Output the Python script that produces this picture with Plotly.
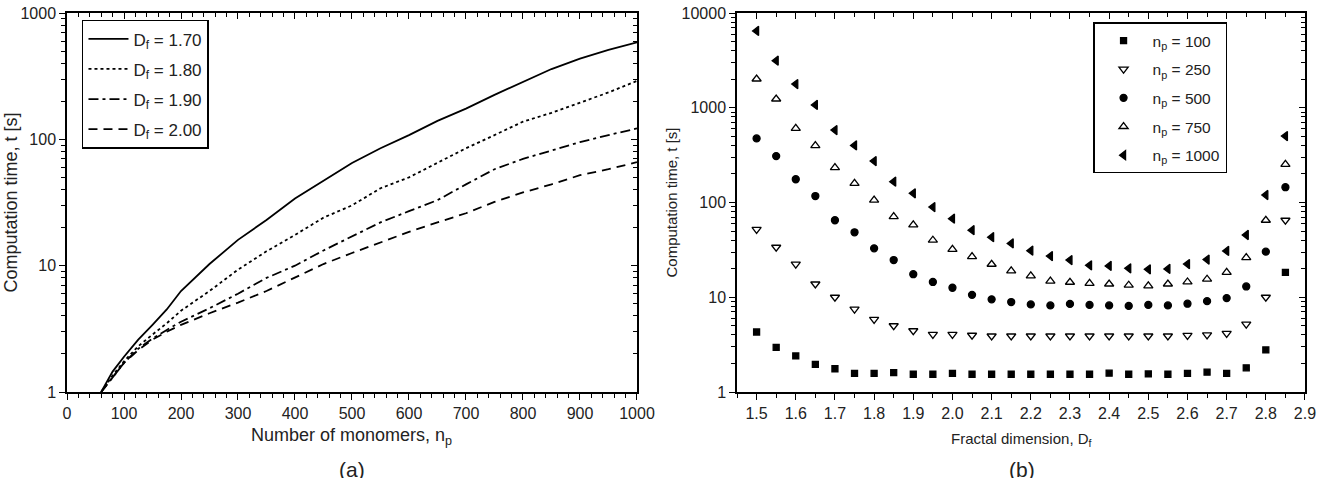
import plotly.graph_objects as go

# ---------------- Data: panel (a) ----------------
n_monomers = [60, 80, 100, 125, 150, 175, 200, 250, 300, 350, 400, 450, 500,
              550, 600, 650, 700, 750, 800, 850, 900, 950, 1000]
t_df170 = [1.0, 1.45, 1.9, 2.6, 3.4, 4.5, 6.3, 10.3, 16, 23, 34, 47, 65,
           85, 108, 140, 175, 225, 285, 360, 435, 510, 585]
t_df180 = [1.0, 1.35, 1.75, 2.3, 2.85, 3.5, 4.4, 6.3, 9.3, 13, 17.5, 24, 30,
           41, 50, 65, 85, 108, 138, 162, 195, 235, 290]
t_df190 = [1.0, 1.3, 1.7, 2.2, 2.65, 3.1, 3.6, 4.6, 6.0, 8.0, 10, 13.2, 17,
           22, 27, 33, 44, 58, 70, 82, 95, 108, 122]
t_df200 = [1.0, 1.3, 1.7, 2.15, 2.6, 3.0, 3.4, 4.2, 5.1, 6.3, 8.0, 10.3, 12.6,
           15.3, 18.5, 22, 26, 32, 38, 44, 52, 58, 66]
labels_a = ["D<sub>f</sub> = 1.70", "D<sub>f</sub> = 1.80",
            "D<sub>f</sub> = 1.90", "D<sub>f</sub> = 2.00"]

# ---------------- Data: panel (b) ----------------
frac_dim = [1.50, 1.55, 1.60, 1.65, 1.70, 1.75, 1.80, 1.85, 1.90, 1.95, 2.00,
            2.05, 2.10, 2.15, 2.20, 2.25, 2.30, 2.35, 2.40, 2.45, 2.50, 2.55,
            2.60, 2.65, 2.70, 2.75, 2.80, 2.85]
t_np100 = [4.3, 2.96, 2.4, 1.96, 1.76, 1.57, 1.57, 1.6, 1.54, 1.54, 1.57,
           1.54, 1.54, 1.54, 1.54, 1.54, 1.54, 1.54, 1.58, 1.54, 1.55, 1.54,
           1.57, 1.62, 1.57, 1.8, 2.78, 18.3]
t_np250 = [52, 33.7, 22.4, 13.8, 10, 7.5, 5.85, 5.0, 4.43, 4.06, 4.06,
           3.97, 3.9, 3.9, 3.9, 3.9, 3.9, 3.9, 3.9, 3.9, 3.9, 3.9,
           3.95, 4.0, 4.16, 5.2, 10, 65]
t_np500 = [475, 309, 176, 117, 65, 48.5, 32.8, 24.7, 17.5, 14.5, 12.6,
           10.6, 9.5, 8.9, 8.4, 8.2, 8.5, 8.3, 8.2, 8.1, 8.3, 8.2,
           8.55, 9.1, 9.8, 13.0, 30.3, 145]
t_np750 = [2010, 1237, 607, 398, 233, 159, 106, 71, 58, 40, 32,
           26.8, 22.3, 19, 16.8, 14.8, 14.4, 14.0, 13.8, 13.4, 13.2, 13.8,
           14.5, 15.5, 18.3, 26.2, 65, 253]
t_np1000 = [6460, 3140, 1780, 1070, 582, 400, 274, 166, 125, 89.5, 67.5,
            51, 43, 37, 31, 27.2, 24.7, 21.7, 21.4, 20.2, 19.7, 19.9,
            22.4, 25, 30.8, 45.4, 120, 503]
labels_b = ["n<sub>p</sub> = 100", "n<sub>p</sub> = 250", "n<sub>p</sub> = 500",
            "n<sub>p</sub> = 750", "n<sub>p</sub> = 1000"]

x_ticks_a = [0, 100, 200, 300, 400, 500, 600, 700, 800, 900, 1000]
y_ticks_a = [1, 10, 100, 1000]
x_ticks_b = [1.5, 1.6, 1.7, 1.8, 1.9, 2.0, 2.1, 2.2, 2.3, 2.4, 2.5, 2.6, 2.7, 2.8, 2.9]
y_ticks_b = [1, 10, 100, 1000, 10000]

FONT = "Liberation Sans, Arial, sans-serif"

fig = go.Figure()

dashes = ["solid", "3px,3px", "10px,4px,3px,4px", "9px,6px"]
for i, (ys, lab) in enumerate(zip([t_df170, t_df180, t_df190, t_df200], labels_a)):
    fig.add_trace(go.Scatter(
        x=n_monomers, y=ys, mode="lines", name=lab,
        line=dict(color="black", width=1.8, dash=dashes[i]),
        xaxis="x", yaxis="y", legend="legend", legendgroup=f"a{i}"))

symbols = ["square", "triangle-down-open", "circle", "triangle-up-open", "triangle-left"]
sizes = [6, 8, 7, 8, 8]
for i, (ys, lab) in enumerate(zip([t_np100, t_np250, t_np500, t_np750, t_np1000], labels_b)):
    fig.add_trace(go.Scatter(
        x=frac_dim, y=ys, mode="markers", name=lab,
        marker=dict(color="black", symbol=symbols[i], size=sizes[i],
                    line=dict(color="black", width=1.3)),
        xaxis="x2", yaxis="y2", legend="legend2", legendgroup=f"b{i}"))

# empty helper traces so the mirrored (top/right) axes are rendered
for xa, ya in [("x3", "y"), ("x", "y3"), ("x4", "y2"), ("x2", "y4")]:
    fig.add_trace(go.Scatter(x=[], y=[], xaxis=xa, yaxis=ya, showlegend=False,
                             hoverinfo="skip"))


def log_minor(decades):
    vals = []
    for d in range(decades):
        for k in range(2, 10):
            vals.append(k * 10 ** d)
    return vals


axis_common = dict(showline=True, linecolor="black", linewidth=1.5,
                   showgrid=False, zeroline=False, tickcolor="black",
                   automargin=False,
                   tickwidth=1.2, tickfont=dict(family=FONT, size=16, color="#222"))

dom_a = [0, 0.4604]
dom_b = [0.5412, 1]

fig.update_layout(
    width=1317, height=478,
    margin=dict(l=67, r=12, t=13, b=86),
    paper_bgcolor="white", plot_bgcolor="white",
    font=dict(family=FONT, color="#222"),
    showlegend=True,
    xaxis=dict(domain=dom_a, anchor="y", range=[0, 1000], tickmode="array",
               tickvals=x_ticks_a, ticks="outside", ticklen=6,
               minor=dict(dtick=20, ticks="outside", ticklen=4, tickcolor="black"),
               **axis_common),
    xaxis3=dict(overlaying="x", anchor="y", side="top", range=[0, 1000],
                tickmode="array", tickvals=x_ticks_a, ticks="inside", ticklen=6,
                showticklabels=False,
                minor=dict(dtick=20, ticks="inside", ticklen=4, tickcolor="black"),
                **axis_common),
    yaxis=dict(domain=[0, 1], anchor="x", type="log", range=[0, 3],
               tickmode="array", tickvals=y_ticks_a,
               ticktext=[str(v) for v in y_ticks_a], ticks="outside", ticklen=6,
               minor=dict(tickmode="array", tickvals=log_minor(3), ticks="outside",
                          ticklen=4, tickcolor="black"),
               **axis_common),
    yaxis3=dict(overlaying="y", anchor="x", side="right", type="log", range=[0, 3],
                tickmode="array", tickvals=y_ticks_a, ticks="inside", ticklen=6,
                showticklabels=False,
                minor=dict(tickmode="array", tickvals=log_minor(3), ticks="inside",
                           ticklen=4, tickcolor="black"),
                **axis_common),
    xaxis2=dict(domain=dom_b, anchor="y2", range=[1.45, 2.9], tickmode="array",
                tickvals=x_ticks_b, ticktext=[f"{v:.1f}" for v in x_ticks_b],
                ticks="outside", ticklen=6,
                minor=dict(dtick=0.05, tick0=1.45, ticks="outside", ticklen=4,
                           tickcolor="black"),
                **axis_common),
    xaxis4=dict(overlaying="x2", anchor="y2", side="top", range=[1.45, 2.9],
                tickmode="array", tickvals=x_ticks_b, ticks="inside", ticklen=6,
                showticklabels=False,
                minor=dict(dtick=0.05, tick0=1.45, ticks="inside", ticklen=4,
                           tickcolor="black"),
                **axis_common),
    yaxis2=dict(domain=[0, 1], anchor="x2", type="log", range=[0, 4],
                tickmode="array", tickvals=y_ticks_b,
                ticktext=[str(v) for v in y_ticks_b], ticks="outside", ticklen=6,
                minor=dict(tickmode="array", tickvals=log_minor(4), ticks="outside",
                           ticklen=4, tickcolor="black"),
                **axis_common),
    yaxis4=dict(overlaying="y2", anchor="x2", side="right", type="log", range=[0, 4],
                tickmode="array", tickvals=y_ticks_b, ticks="inside", ticklen=6,
                showticklabels=False,
                minor=dict(tickmode="array", tickvals=log_minor(4), ticks="inside",
                           ticklen=4, tickcolor="black"),
                **axis_common),
    legend=dict(x=0.0121, y=0.982, xanchor="left", yanchor="top",
                bordercolor="black", borderwidth=1.5, bgcolor="white",
                font=dict(family=FONT, size=17, color="#222"),
                tracegroupgap=5, itemwidth=40),
    legend2=dict(x=0.8288, y=0.975, xanchor="left", yanchor="top",
                 bordercolor="black", borderwidth=1.5, bgcolor="white",
                 font=dict(family=FONT, size=15.5, color="#222"),
                 tracegroupgap=5.5, itemwidth=48),
)

annots = [
    dict(text="Number of monomers, n<sub>p</sub>", x=0.2302, y=-0.118,
         font=dict(size=18)),
    dict(text="Fractal dimension, D<sub>f</sub>", x=0.7714, y=-0.125,
         font=dict(size=15)),
    dict(text="Computation time, t [s]", x=-0.0460, y=0.5, textangle=-90,
         font=dict(size=18)),
    dict(text="Computation time, t [s]", x=0.4879, y=0.5, textangle=-90,
         font=dict(size=15)),
    dict(text="(a)", x=0.2302, y=-0.168, yanchor="top", font=dict(size=21)),
    dict(text="(b)", x=0.7714, y=-0.168, yanchor="top", font=dict(size=21)),
]
for a in annots:
    a.setdefault("yanchor", "middle")
    fig.add_annotation(xref="paper", yref="paper", showarrow=False,
                       xanchor="center", **a)
    fig.layout.annotations[-1].font.family = FONT
    fig.layout.annotations[-1].font.color = "#222"

fig.write_html("out.html")
